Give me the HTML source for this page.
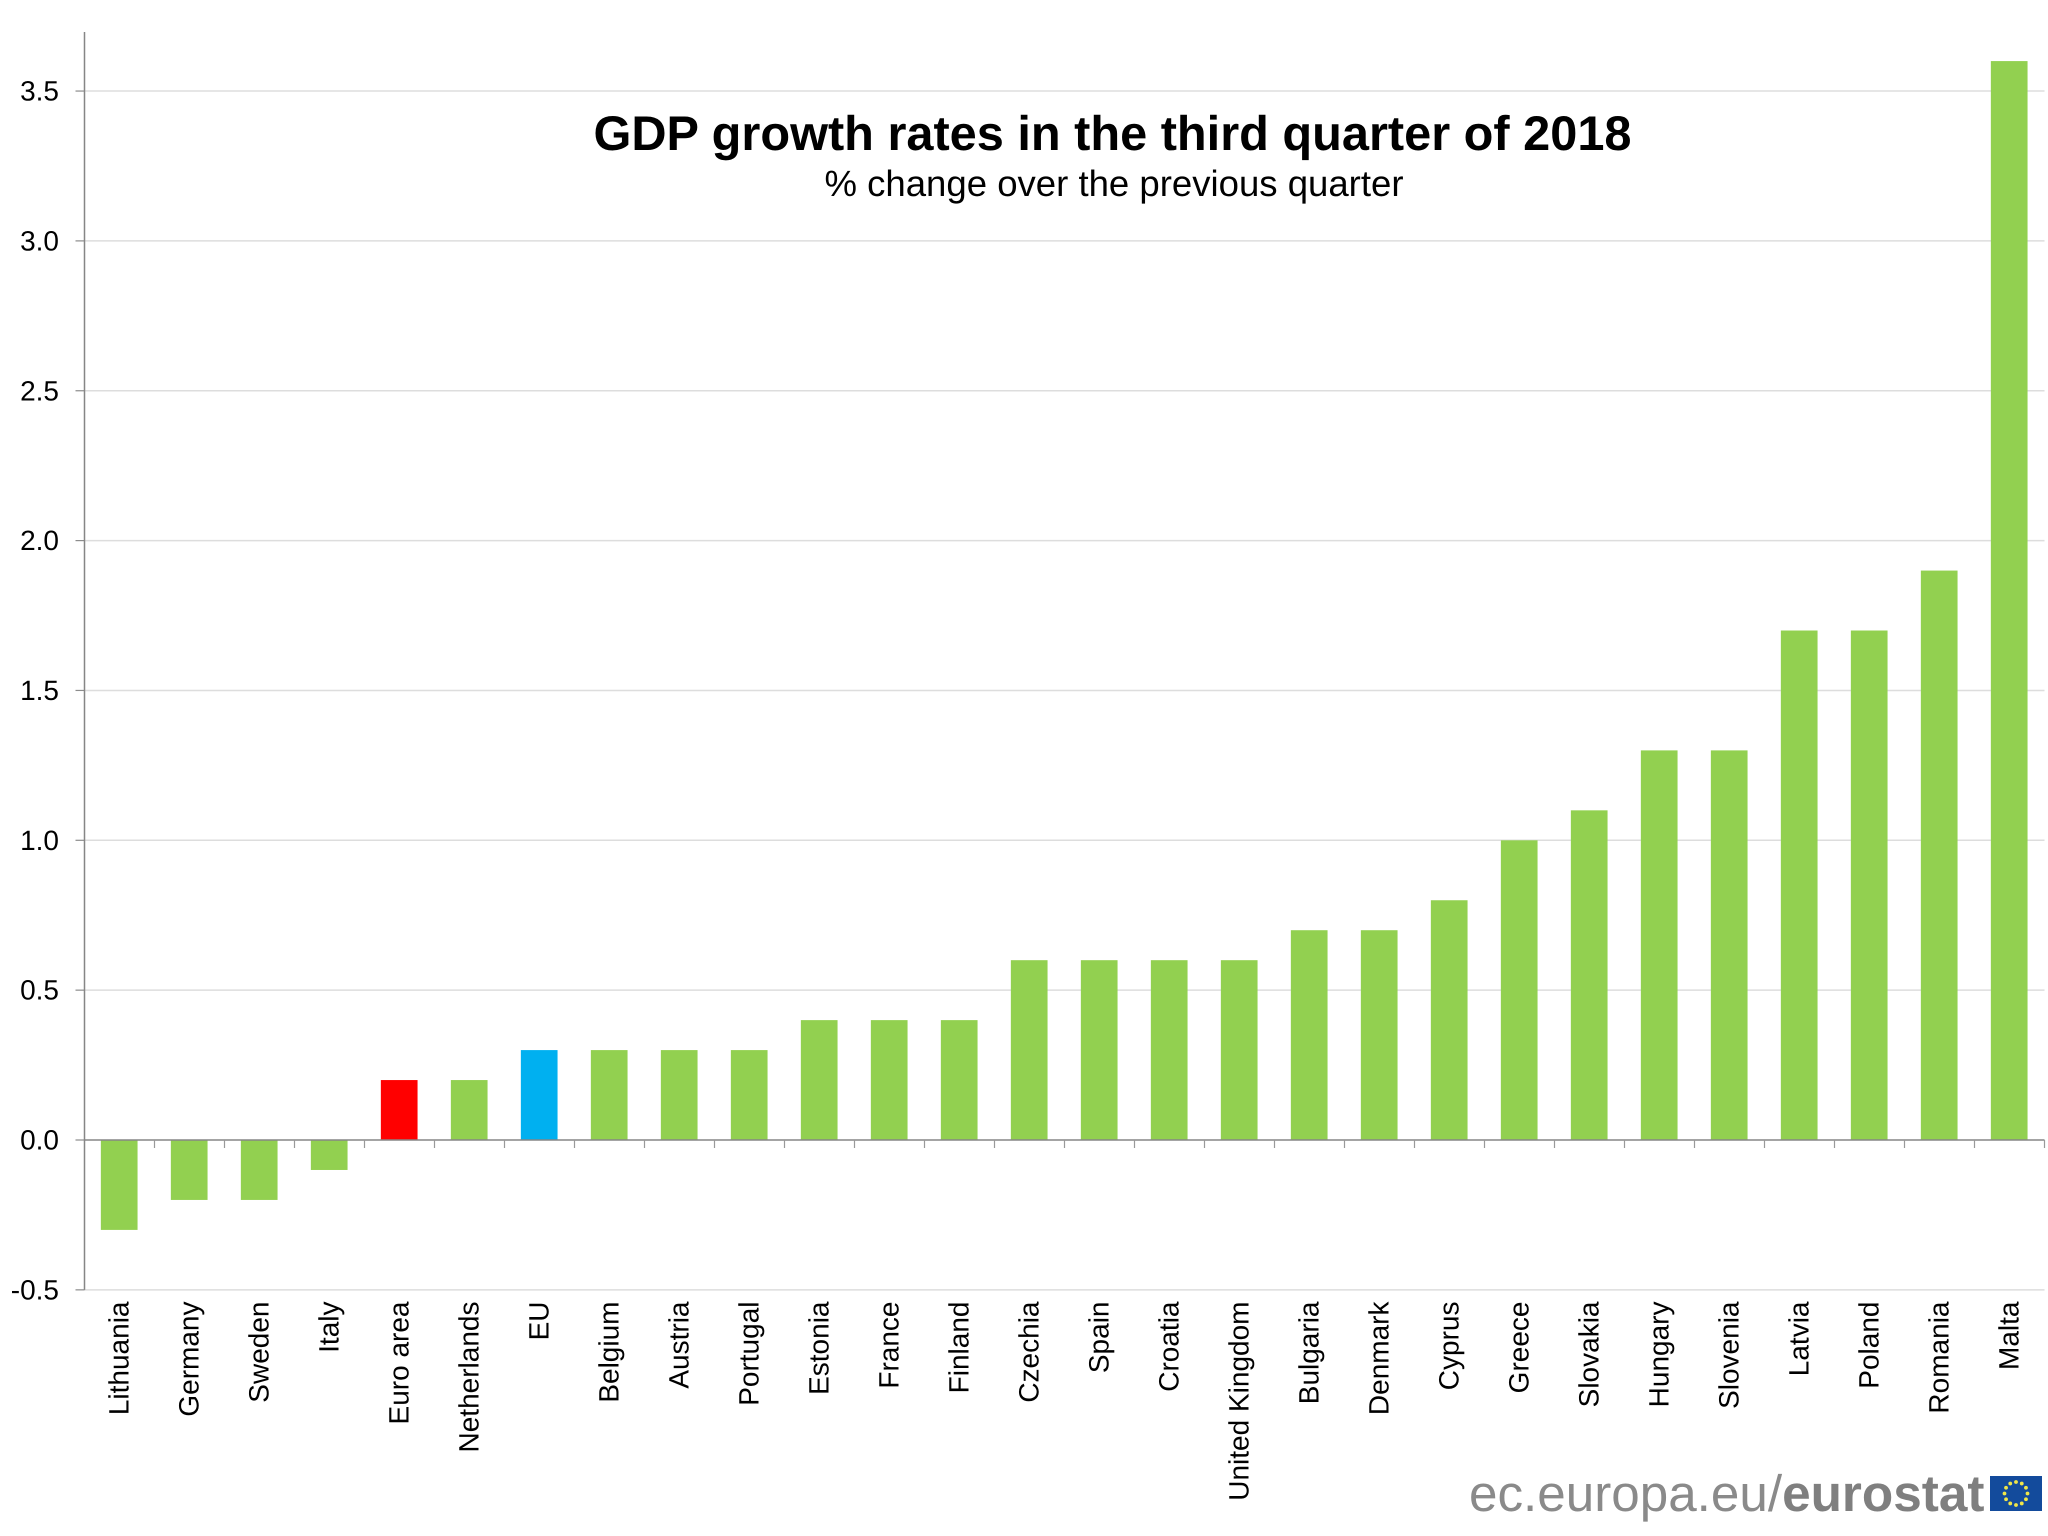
<!DOCTYPE html>
<html lang="en">
<head>
<meta charset="utf-8">
<title>GDP growth rates in the third quarter of 2018</title>
<style>
  html, body { margin: 0; padding: 0; background: #ffffff; }
  body { width: 2048px; height: 1536px; overflow: hidden; }
  svg { display: block; font-family: "Liberation Sans", Arial, sans-serif; text-rendering: geometricPrecision; }
</style>
</head>
<body>
<svg id="chart" xmlns="http://www.w3.org/2000/svg" width="2048" height="1536" viewBox="0 0 2048 1536">
  <rect x="0" y="0" width="2048" height="1536" fill="#ffffff"/>
  <g id="grid"></g>
  <g id="bars"></g>
  <g id="axes"></g>
  <g id="ylabels"></g>
  <g id="xlabels"></g>
  <text x="1112.5" y="150" text-anchor="middle" font-size="48.7" font-weight="700" fill="#000000">GDP growth rates in the third quarter of 2018</text>
  <text x="1114" y="196" text-anchor="middle" font-size="36.55" fill="#000000">% change over the previous quarter</text>
  <text x="1469" y="1511" font-size="51.2" fill="#8a8a8a">ec.europa.eu/<tspan font-weight="700" fill="#7f7f7f" font-size="51.3">eurostat</tspan></text>
  <g id="flag">
    <rect x="1990" y="1476" width="52" height="35" fill="#134b9c"/>
  </g>
</svg>
<script>
const categories = ["Lithuania","Germany","Sweden","Italy","Euro area","Netherlands","EU","Belgium","Austria","Portugal","Estonia","France","Finland","Czechia","Spain","Croatia","United Kingdom","Bulgaria","Denmark","Cyprus","Greece","Slovakia","Hungary","Slovenia","Latvia","Poland","Romania","Malta"];
const values = [-0.3,-0.2,-0.2,-0.1,0.2,0.2,0.3,0.3,0.3,0.3,0.4,0.4,0.4,0.6,0.6,0.6,0.6,0.7,0.7,0.8,1.0,1.1,1.3,1.3,1.7,1.7,1.9,3.6];
const yTicks = [-0.5,0,0.5,1,1.5,2,2.5,3,3.5];
const highlightCategories = { "Euro area": "#ff0000", "EU": "#00b0f0" };

const NS = "http://www.w3.org/2000/svg";
const plotLeft = 84.5, plotRight = 2044.5, axisTop = 32;
const zeroY = 1140, unitPx = 299.7, barWidth = 36.7;
const band = (plotRight - plotLeft) / categories.length;
const xCenter = function (i) { return plotLeft + band * (i + 0.5); };
const yScale = function (v) { return zeroY - v * unitPx; };
const kebab = function (s) { return s.toLowerCase().replace(/[^a-z0-9]+/g, "-"); };
const make = function (tag, attrs, parent) {
  const el = document.createElementNS(NS, tag);
  for (const k in attrs) el.setAttribute(k, attrs[k]);
  parent.appendChild(el);
  return el;
};
const grid = document.getElementById("grid");
const barsG = document.getElementById("bars");
const axes = document.getElementById("axes");
const ylabels = document.getElementById("ylabels");
const xlabels = document.getElementById("xlabels");
const flag = document.getElementById("flag");

yTicks.forEach(function (t) {
  const y = yScale(t);
  if (t !== 0) {
    const line = make("line", { x1: plotLeft, x2: plotRight, y1: y, y2: y, stroke: "#dddddd", "stroke-width": 1.5 }, grid);
    
    
  }
  const tick = make("line", { x1: plotLeft - 9, x2: plotLeft, y1: y, y2: y, stroke: "#8c8c8c", "stroke-width": 1.2 }, axes);
  
  
  const label = make("text", { x: 59, y: y + 9.5, "text-anchor": "end", "font-size": 28, fill: "#000000" }, ylabels);
  
  
  label.textContent = t.toFixed(1);
});

values.forEach(function (v, i) {
  const y0 = yScale(0), y1 = yScale(v);
  const bar = make("rect", {
    x: xCenter(i) - barWidth / 2 - 0.3,
    y: Math.min(y0, y1),
    width: barWidth,
    height: Math.abs(y1 - y0),
    fill: highlightCategories[categories[i]] || "#92d050"
  }, barsG);
  
  
});

const yAxis = make("line", { x1: plotLeft, x2: plotLeft, y1: axisTop, y2: yScale(-0.5), stroke: "#868686", "stroke-width": 1.5 }, axes);


const xAxis = make("line", { x1: plotLeft, x2: plotRight, y1: zeroY, y2: zeroY, stroke: "#868686", "stroke-width": 1.5 }, axes);



categories.forEach(function (c, i) {
  const tx = plotLeft + band * (i + 1);
  const tick = make("line", { x1: tx, x2: tx, y1: zeroY, y2: zeroY + 8, stroke: "#999999", "stroke-width": 1.2 }, axes);
  
  
  const lx = xCenter(i) + 9, ly = 1301.5;
  const label = make("text", { x: lx, y: ly, "text-anchor": "end", "font-size": 28, fill: "#000000", transform: "rotate(-90 " + lx + " " + ly + ")" }, xlabels);
  
  
  label.textContent = c;
});

for (let k = 0; k < 12; k++) {
  const a = k * Math.PI / 6;
  const cx = 2016 + 11.5 * Math.cos(a), cy = 1493.5 + 11.5 * Math.sin(a);
  const star = make("circle", { cx: cx, cy: cy, r: 1.9, fill: "#f0e648" }, flag);
  
  
}
</script>
</body>
</html>
